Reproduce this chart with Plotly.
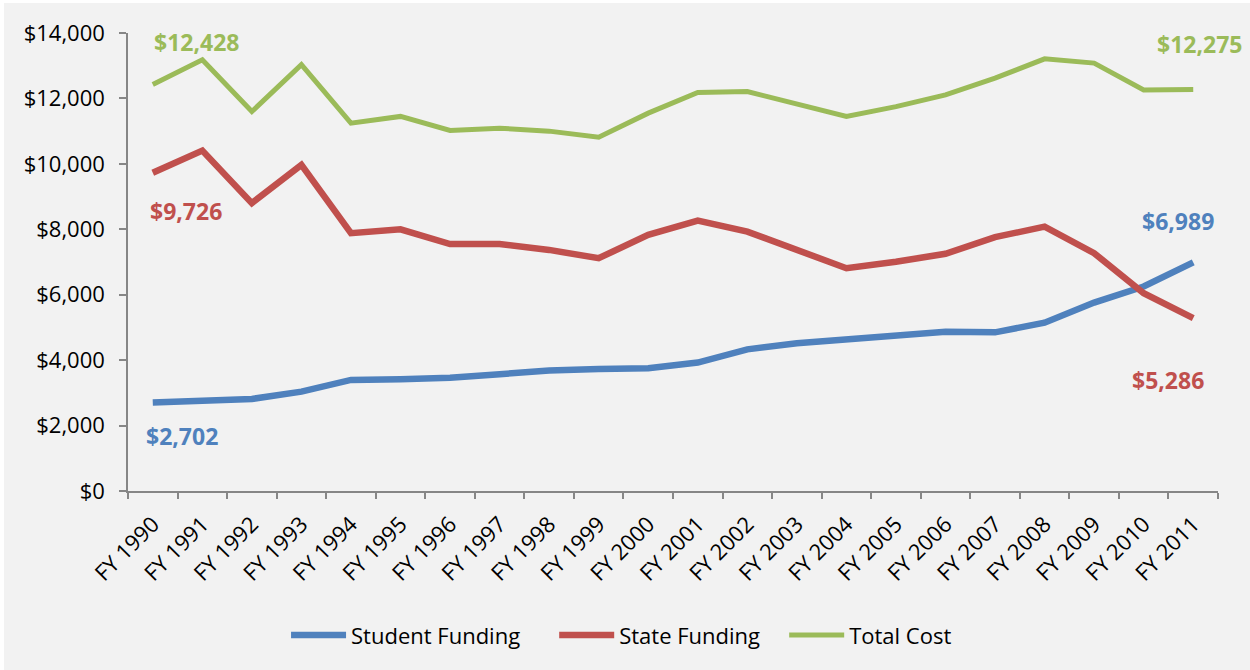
import plotly.graph_objects as go

# Fiscal years on the category axis
years = ["FY 1990", "FY 1991", "FY 1992", "FY 1993", "FY 1994", "FY 1995",
         "FY 1996", "FY 1997", "FY 1998", "FY 1999", "FY 2000", "FY 2001",
         "FY 2002", "FY 2003", "FY 2004", "FY 2005", "FY 2006", "FY 2007",
         "FY 2008", "FY 2009", "FY 2010", "FY 2011"]

# Per-student amounts in dollars
student_funding = [2702, 2770, 2813, 3037, 3395, 3415, 3465, 3570, 3680, 3730,
                   3750, 3925, 4330, 4515, 4640, 4770, 4870, 4850, 5145, 5760,
                   6250, 6989]
state_funding = [9726, 10407, 8800, 9970, 7880, 8000, 7550, 7550, 7370, 7115,
                 7830, 8265, 7930, 7370, 6810, 7010, 7250, 7760, 8080, 7270,
                 6045, 5286]
total_cost = [12428, 13180, 11600, 13030, 11245, 11450, 11020, 11090, 11000,
              10815, 11550, 12180, 12210, 11835, 11450, 11750, 12110, 12620,
              13210, 13080, 12260, 12275]

y_ticks = [0, 2000, 4000, 6000, 8000, 10000, 12000, 14000]

BLUE = "#4F81BD"
RED = "#C0504D"
GREEN = "#9BBB59"
AXIS = "#868686"
FONT = "Open Sans"


def money(v):
    return "${:,}".format(v)


fig = go.Figure()
fig.add_trace(go.Scatter(x=years, y=student_funding, mode="lines",
                         name="Student Funding", legend="legend",
                         line=dict(color=BLUE, width=6.5)))
fig.add_trace(go.Scatter(x=years, y=state_funding, mode="lines",
                         name="State Funding", legend="legend2",
                         line=dict(color=RED, width=6.5)))
fig.add_trace(go.Scatter(x=years, y=total_cost, mode="lines",
                         name="Total Cost", legend="legend3",
                         line=dict(color=GREEN, width=5)))

# Endpoint value labels: (series, index, colour, xshift, yshift)
labels = [
    (total_cost, 0, GREEN, 44, 42),
    (state_funding, 0, RED, 33, -38),
    (student_funding, 0, BLUE, 29, -33),
    (total_cost, -1, GREEN, 6, 45),
    (student_funding, -1, BLUE, -15, 41),
    (state_funding, -1, RED, -25, -62),
]
for series, idx, color, dx, dy in labels:
    fig.add_annotation(x=years[idx], y=series[idx], text=money(series[idx]),
                       showarrow=False, xshift=dx, yshift=dy,
                       font=dict(family=FONT, size=23, color=color,
                                 weight="bold"))

# Thin white frame on the top and left edges of the canvas
fig.add_shape(type="rect", xref="paper", yref="paper",
              x0=-128 / 1090, x1=(1250 - 128) / 1090,
              y0=1 + 30 / 458, y1=1 + 34 / 458,
              fillcolor="white", line_width=0, layer="below")
fig.add_shape(type="rect", xref="paper", yref="paper",
              x0=-128 / 1090, x1=-124 / 1090,
              y0=-179 / 458, y1=1 + 34 / 458,
              fillcolor="white", line_width=0, layer="below")

legend_style = dict(orientation="h", xanchor="left", y=-0.315,
                    yanchor="middle", itemwidth=55,
                    bgcolor="rgba(0,0,0,0)",
                    font=dict(family=FONT, size=22, color="#000000"))

fig.update_layout(
    width=1250, height=670,
    margin=dict(l=128, r=32, t=33, b=179),
    paper_bgcolor="#F2F2F2", plot_bgcolor="#F2F2F2",
    font=dict(family=FONT, size=20, color="#000000"),
    showlegend=True,
    legend=dict(x=0.145, **legend_style),
    legend2=dict(x=0.391, **legend_style),
    legend3=dict(x=0.602, **legend_style),
)
fig.update_xaxes(type="category", range=[-0.5, len(years) - 0.5],
                 tickson="boundaries", ticks="outside", ticklen=6,
                 tickcolor=AXIS, tickwidth=1.5,
                 showline=True, linecolor=AXIS, linewidth=1.5,
                 showgrid=False, zeroline=False, tickangle=-45,
                 ticklabelstandoff=10,
                 tickfont=dict(family=FONT, size=22))
fig.update_yaxes(range=[0, 14000], tickvals=y_ticks,
                 ticktext=[money(v) for v in y_ticks],
                 ticks="outside", ticklen=7, tickcolor=AXIS, tickwidth=1.5,
                 showline=True, linecolor=AXIS, linewidth=1.5,
                 showgrid=False, zeroline=False, ticklabelstandoff=10,
                 tickfont=dict(family=FONT, size=22))

fig.write_html("out.html")
